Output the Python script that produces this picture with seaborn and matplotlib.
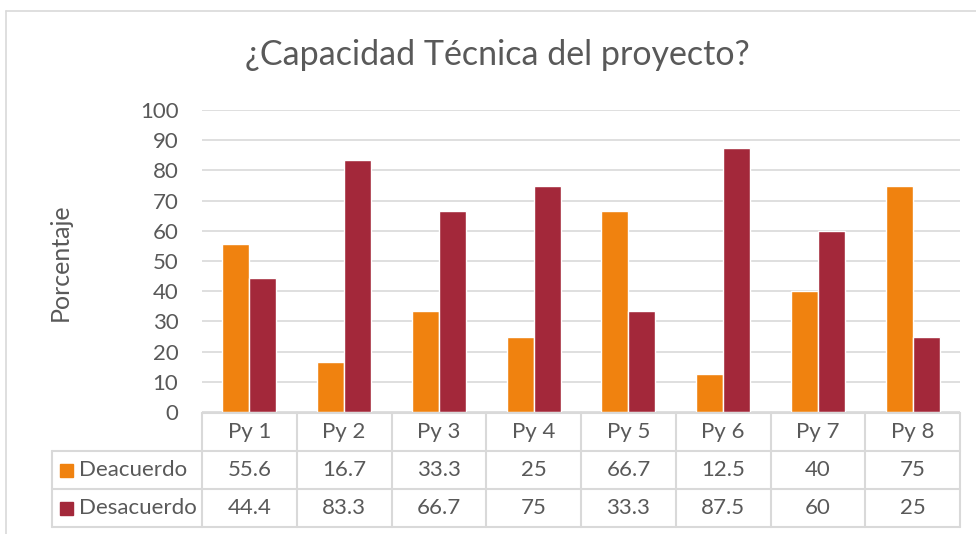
import matplotlib
matplotlib.use("Agg")
import matplotlib.pyplot as plt
import pandas as pd
import seaborn as sns
from matplotlib.lines import Line2D
from matplotlib.patches import Rectangle

TITLE = "¿Capacidad Técnica del proyecto?"
Y_LABEL = "Porcentaje"
categories = ["Py 1", "Py 2", "Py 3", "Py 4", "Py 5", "Py 6", "Py 7", "Py 8"]
series_names = ["Deacuerdo", "Desacuerdo"]
deacuerdo = [55.6, 16.7, 33.3, 25, 66.7, 12.5, 40, 75]
desacuerdo = [44.4, 83.3, 66.7, 75, 33.3, 87.5, 60, 25]
y_ticks = [0, 10, 20, 30, 40, 50, 60, 70, 80, 90, 100]

COLORS = ["#F0820F", "#A3283A"]
TEXT = "#595959"
GRID = "#D9D9D9"
FS = 16

W, H = 976, 534

sns.set_theme(style="white")
plt.rcParams["font.family"] = ["Lato", "DejaVu Sans"]

df = pd.DataFrame({
    "proyecto": categories * 2,
    "serie": [series_names[0]] * len(categories) + [series_names[1]] * len(categories),
    "valor": deacuerdo + desacuerdo,
})

fig = plt.figure(figsize=(W / 100, H / 100), dpi=100)


def fx(px):
    return px / W


def fy(py):
    return 1 - py / H


# outer chart border (partly visible in the reference)
fig.add_artist(Line2D([fx(6), fx(6)], [fy(11), 0], color=GRID, lw=1.2, transform=fig.transFigure))
fig.add_artist(Line2D([fx(6), 1], [fy(11), fy(11)], color=GRID, lw=1.2, transform=fig.transFigure))

x0, x1 = 202, 960
y_top, y_zero = 110, 412
ax = fig.add_axes([fx(x0), fy(y_zero), fx(x1) - fx(x0), fy(y_top) - fy(y_zero)])

sns.barplot(data=df, x="proyecto", y="valor", hue="serie", palette=COLORS,
            width=0.57, gap=0, saturation=1, legend=False, ax=ax)

ax.set_ylim(0, 100)
ax.set_xlim(-0.5, len(categories) - 0.5)
ax.set_yticks(y_ticks)
ax.set_yticklabels([str(t) for t in y_ticks], color=TEXT, fontsize=FS)
ax.tick_params(axis="y", length=0, pad=17)
ax.set_xticks([])
ax.set_xlabel("")
ax.set_ylabel("")
ax.yaxis.grid(True, color=GRID, lw=1.2)
ax.set_axisbelow(True)
for s in ax.spines.values():
    s.set_visible(False)

fig.text(fx(497), fy(55), TITLE, ha="center", va="center", fontsize=24.5, color=TEXT)
fig.text(fx(60), fy(262), Y_LABEL, ha="center", va="center", rotation=90, fontsize=18, color=TEXT)

# data table below the plot
rows_y = [413, 451, 489, 527]
col_w = (x1 - x0) / len(categories)
col_x = [x0 + i * col_w for i in range(len(categories) + 1)]
leg_x = 52


def hline(xa, xb, y):
    fig.add_artist(Line2D([fx(xa), fx(xb)], [fy(y), fy(y)], color=GRID, lw=1.5, transform=fig.transFigure))


def vline(x, ya, yb):
    fig.add_artist(Line2D([fx(x), fx(x)], [fy(ya), fy(yb)], color=GRID, lw=1.5, transform=fig.transFigure))


hline(x0, x1, rows_y[0])
for y in rows_y[1:]:
    hline(leg_x, x1, y)
vline(leg_x, rows_y[1], rows_y[3])
for x in col_x:
    vline(x, rows_y[0], rows_y[3])

for i, cat in enumerate(categories):
    cx = (col_x[i] + col_x[i + 1]) / 2
    fig.text(fx(cx), fy((rows_y[0] + rows_y[1]) / 2), cat, ha="center", va="center",
             fontsize=FS, color=TEXT)
    for r, vals in enumerate([deacuerdo, desacuerdo]):
        cy = (rows_y[r + 1] + rows_y[r + 2]) / 2
        fig.text(fx(cx), fy(cy), f"{vals[i]:g}", ha="center", va="center", fontsize=FS, color=TEXT)

for r, name in enumerate(series_names):
    cy = (rows_y[r + 1] + rows_y[r + 2]) / 2
    fig.add_artist(Rectangle((fx(60), fy(cy + 7)), fx(13), fy(0) - fy(13), color=COLORS[r],
                             transform=fig.transFigure))
    fig.text(fx(79), fy(cy), name, ha="left", va="center", fontsize=FS, color=TEXT)

fig.savefig("out.png", dpi=100, facecolor="white")
